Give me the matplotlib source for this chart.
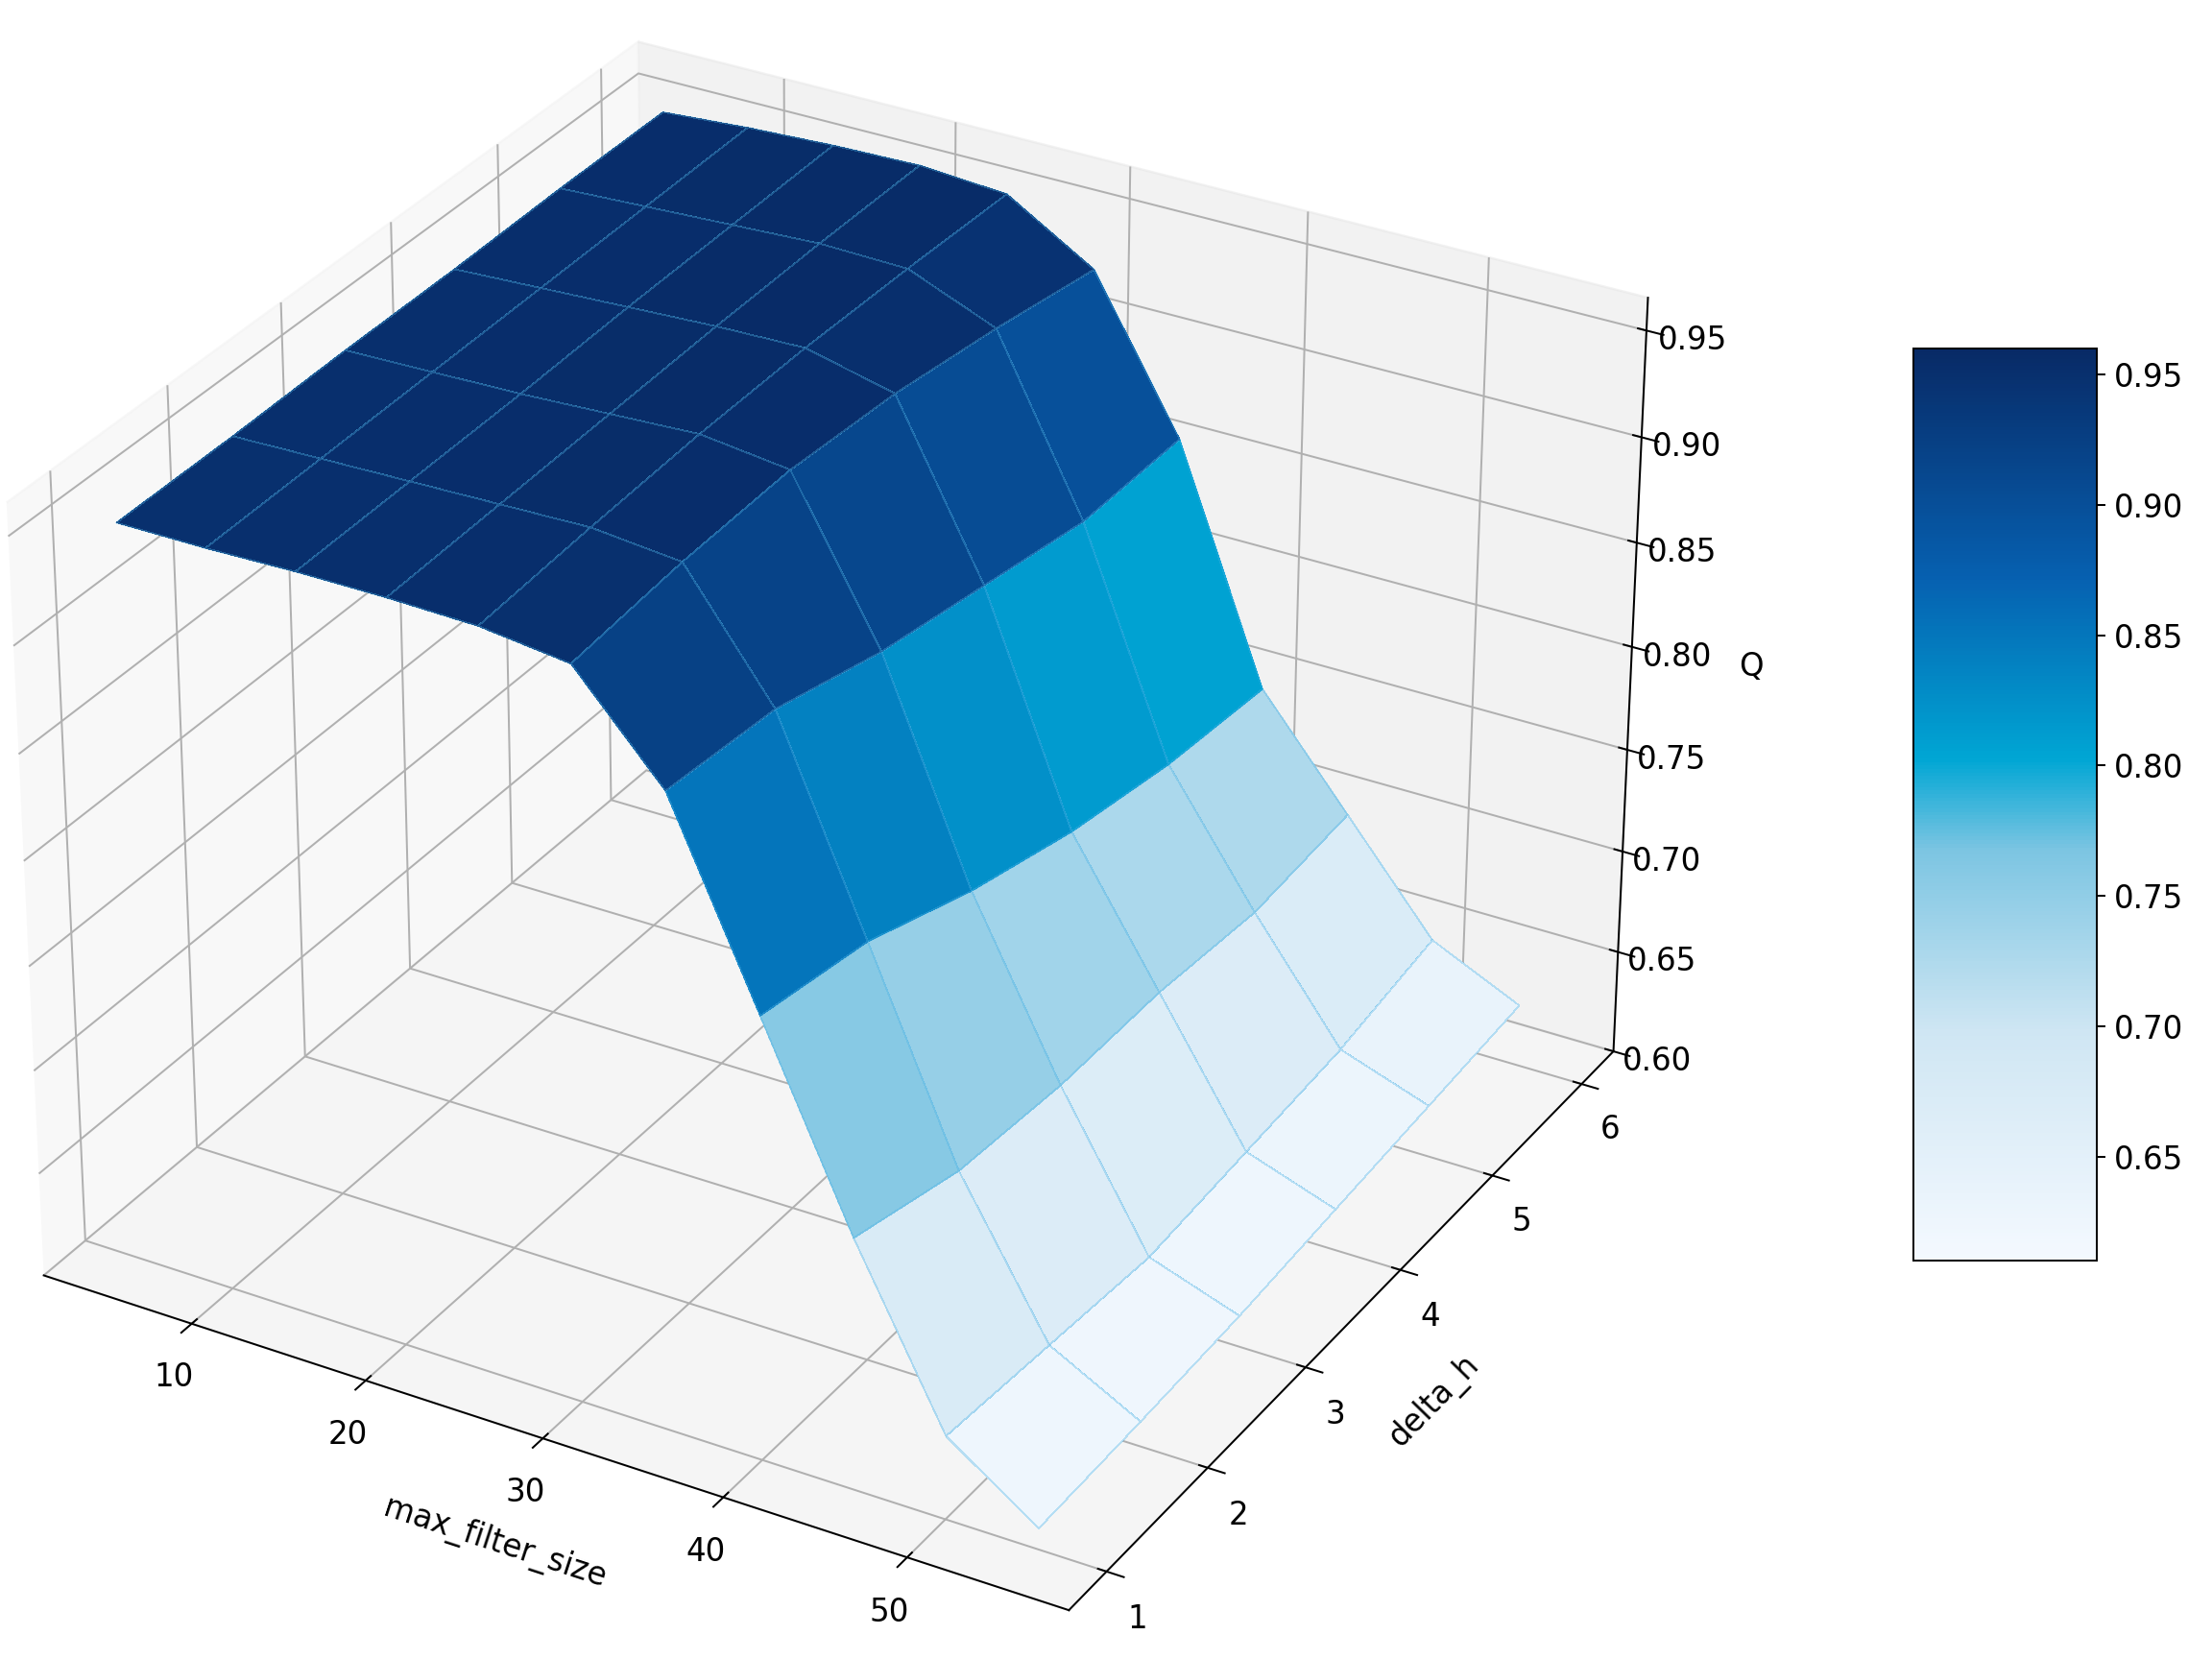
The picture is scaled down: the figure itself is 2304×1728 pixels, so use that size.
import numpy as np
import matplotlib
matplotlib.use("Agg")
import matplotlib.pyplot as plt
from matplotlib.colors import LinearSegmentedColormap

max_filter_size = [5, 10, 15, 20, 25, 30, 35, 40, 45, 50, 55]
delta_h = [1, 2, 3, 4, 5, 6]
# Q[i][j]: i over max_filter_size, j over delta_h
Q = [
    [0.950, 0.950, 0.951, 0.951, 0.952, 0.952],
    [0.950, 0.951, 0.952, 0.953, 0.954, 0.955],
    [0.951, 0.952, 0.953, 0.955, 0.956, 0.957],
    [0.951, 0.953, 0.955, 0.957, 0.958, 0.958],
    [0.950, 0.954, 0.957, 0.958, 0.957, 0.955],
    [0.945, 0.950, 0.952, 0.948, 0.940, 0.930],
    [0.900, 0.895, 0.880, 0.870, 0.860, 0.860],
    [0.810, 0.800, 0.780, 0.765, 0.755, 0.750],
    [0.720, 0.705, 0.700, 0.700, 0.695, 0.700],
    [0.640, 0.635, 0.630, 0.635, 0.640, 0.650],
    [0.610, 0.612, 0.615, 0.620, 0.625, 0.630],
]

cmap = LinearSegmentedColormap.from_list(
    "qblue",
    [(0.0, "#f4f9ff"), (0.25, "#cfe6f3"), (0.45, "#7cc5e2"),
     (0.55, "#00a6d4"), (0.75, "#0660b0"), (1.0, "#082a66")])

X, Y = np.meshgrid(max_filter_size, delta_h, indexing="ij")
Z = np.array(Q)

fig = plt.figure(figsize=(12.8, 9.6), dpi=180)
ax = fig.add_axes([-0.06, -0.04, 0.86, 1.1], projection="3d")
surf = ax.plot_surface(X, Y, Z, cmap=cmap, vmin=0.61, vmax=0.96,
                       linewidth=0.3, edgecolor=(0.3, 0.7, 0.9, 0.35),
                       antialiased=False)
ax.set_xlabel("max_filter_size", fontsize=13, labelpad=10)
ax.set_ylabel("delta_h", fontsize=13, labelpad=10)
ax.set_zlabel("Q", fontsize=13, labelpad=10)
ax.set_xticks([10, 20, 30, 40, 50])
ax.set_yticks([1, 2, 3, 4, 5, 6])
ax.set_zticks([0.60, 0.65, 0.70, 0.75, 0.80, 0.85, 0.90, 0.95])
ax.tick_params(labelsize=13)
cax = fig.add_axes([0.865, 0.24, 0.083, 0.55])
cb = fig.colorbar(surf, cax=cax)
cb.ax.tick_params(labelsize=13)
fig.savefig("out.png", dpi=180)
